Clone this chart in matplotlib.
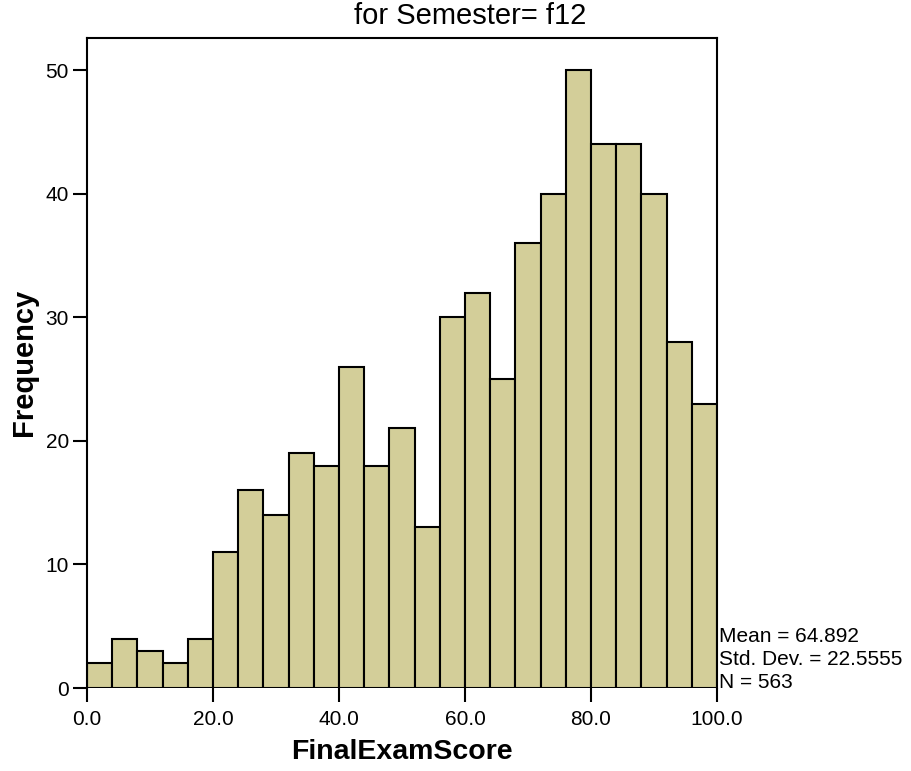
import numpy as np
import matplotlib
matplotlib.use('Agg')
import matplotlib.pyplot as plt

plt.rcParams['font.family'] = ['Liberation Sans', 'DejaVu Sans']

# histogram of FinalExamScore, bins of width 4
BIN_LEFT = list(range(0, 100, 4))
COUNTS = [2, 4, 3, 2, 4, 11, 16, 14, 19, 18, 26, 18, 21, 13, 30,
          32, 25, 36, 40, 50, 44, 44, 40, 28, 23]
X_TICKS = [0, 20, 40, 60, 80, 100]
X_TICK_LABELS = ['0.0', '20.0', '40.0', '60.0', '80.0', '100.0']
Y_TICKS = [0, 10, 20, 30, 40, 50]
STATS = ['Mean = 64.892', 'Std. Dev. = 22.5555', 'N = 563']

W, H = 912, 771
fig = plt.figure(figsize=(W / 100, H / 100), dpi=100)
ax = fig.add_axes([87 / W, 1 - 688 / H, 630 / W, 650 / H])

ax.bar(BIN_LEFT, COUNTS, width=4, align='edge', color='#d3ce99',
       edgecolor='black', linewidth=1.5)

ax.set_xlim(0, 100)
ax.set_ylim(0, 52.6)
ax.set_xticks(X_TICKS)
ax.set_xticklabels(X_TICK_LABELS)
ax.set_yticks(Y_TICKS)
ax.tick_params(axis='both', labelsize=15, width=1.5, length=10, direction='out')
ax.tick_params(axis='x', pad=6)
ax.tick_params(axis='y', pad=3)

ax.spines['bottom'].set_visible(False)
for s in ['top', 'left', 'right']:
    ax.spines[s].set_linewidth(1.5)

fig.text(470 / W, 1 - 16 / H, 'for Semester= f12', fontsize=21,
         ha='center', va='center')
fig.text(402 / W, 1 - 752 / H, 'FinalExamScore', fontsize=20.5,
         fontweight='bold', ha='center', va='center')
fig.text(24 / W, 1 - 362 / H, 'Frequency', fontsize=21, fontweight='bold',
         ha='center', va='center', rotation=90)

for i, line in enumerate(STATS):
    ax.text(1.003, (689 - 637 - i * 23.5) / 650, line, transform=ax.transAxes,
            fontsize=15, ha='left', va='center')

fig.savefig('out.png', dpi=100)
